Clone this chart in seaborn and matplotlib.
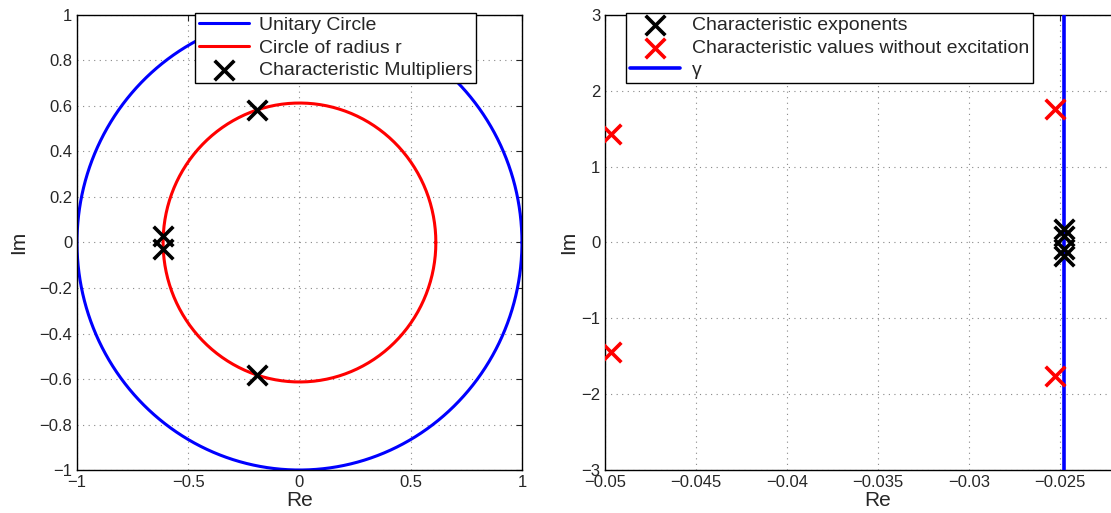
import numpy as np
import pandas as pd
import seaborn as sns
import matplotlib
matplotlib.use("Agg")
import matplotlib.pyplot as plt
from matplotlib.ticker import FuncFormatter

# left panel: characteristic multipliers
r = 0.613
mult_re = [-0.613, -0.613, -0.192, -0.192]
mult_im = [0.03, -0.03, 0.583, -0.583]

# right panel: characteristic exponents
exp_re = [-0.0248, -0.0248, -0.0248, -0.0248]
exp_im = [0.18, 0.09, -0.09, -0.18]
free_re = [-0.0497, -0.0497, -0.02527, -0.02527]
free_im = [1.43, -1.44, 1.755, -1.755]
gamma = -0.0248

sns.set_style("white")
plt.rcParams['font.family'] = ['Liberation Sans', 'DejaVu Sans']

theta = np.linspace(0, 2 * np.pi, 400)
unit = pd.DataFrame({'re': np.cos(theta), 'im': np.sin(theta)})
circ_r = pd.DataFrame({'re': r * np.cos(theta), 'im': r * np.sin(theta)})
mult = pd.DataFrame({'re': mult_re, 'im': mult_im})
expo = pd.DataFrame({'re': exp_re, 'im': exp_im})
free = pd.DataFrame({'re': free_re, 'im': free_im})

fig = plt.figure(figsize=(11.11, 5.13), dpi=100)
ax1 = fig.add_axes([0.0693, 0.0838, 0.4005, 0.887])
ax2 = fig.add_axes([0.5446, 0.0838, 0.4915, 0.887])


def tickfmt(v, p):
    v = round(v, 6) + 0.0
    if v == 0:
        return '0'
    return ('%g' % v).replace('-', '\u2212')


fmt = FuncFormatter(tickfmt)

def style(ax):
    ax.grid(True, color='#888888', linestyle=(0, (1, 4)), linewidth=0.8)
    ax.tick_params(direction='in', top=True, right=True, labelsize=12, length=4)
    ax.xaxis.set_major_formatter(fmt)
    ax.yaxis.set_major_formatter(fmt)
    for s in ax.spines.values():
        s.set_color('black')
        s.set_linewidth(1.0)
    ax.set_xlabel('Re', fontsize=15, labelpad=1)
    ax.set_ylabel('Im', fontsize=15, labelpad=8)

sns.lineplot(data=unit, x='re', y='im', sort=False, estimator=None, color='#0000ff',
             linewidth=2.2, ax=ax1, label='Unitary Circle')
sns.lineplot(data=circ_r, x='re', y='im', sort=False, estimator=None, color='#ff0000',
             linewidth=2.2, ax=ax1, label='Circle of radius r')
sns.scatterplot(data=mult, x='re', y='im', marker='x', color='black', s=200,
                linewidth=2.6, ax=ax1, label='Characteristic Multipliers', zorder=5)
ax1.set_xlim(-1, 1)
ax1.set_ylim(-1, 1)
ax1.set_xticks(np.arange(-1, 1.01, 0.5))
ax1.set_yticks(np.arange(-1, 1.01, 0.2))
style(ax1)
ax1.legend(loc='upper left', bbox_to_anchor=(0.265, 1.005), fontsize=14, frameon=True,
           fancybox=False, edgecolor='black', framealpha=1, handlelength=2.6,
           borderpad=0.2, labelspacing=0.25, handletextpad=0.5, borderaxespad=0)

sns.scatterplot(data=expo, x='re', y='im', marker='x', color='black', s=200,
                linewidth=2.6, ax=ax2, label='Characteristic exponents', zorder=5)
sns.scatterplot(data=free, x='re', y='im', marker='x', color='#ff0000', s=200,
                linewidth=2.6, ax=ax2, label='Characteristic values without excitation', zorder=5)
ax2.axvline(gamma, color='#0000ff', linewidth=2.6, label='\u03b3', zorder=4)
ax2.set_xlim(-0.05, -0.02)
ax2.set_ylim(-3, 3)
ax2.set_xticks(np.arange(-0.05, -0.0249, 0.005))
ax2.set_yticks(np.arange(-3, 3.01, 1))
style(ax2)
ax2.yaxis.labelpad = 2
ax2.legend(loc='upper left', bbox_to_anchor=(0.038, 1.005), fontsize=14, frameon=True,
           fancybox=False, edgecolor='black', framealpha=1, handlelength=2.6,
           borderpad=0.2, labelspacing=0.25, handletextpad=0.6, borderaxespad=0)

fig.savefig('out.png', dpi=100)
